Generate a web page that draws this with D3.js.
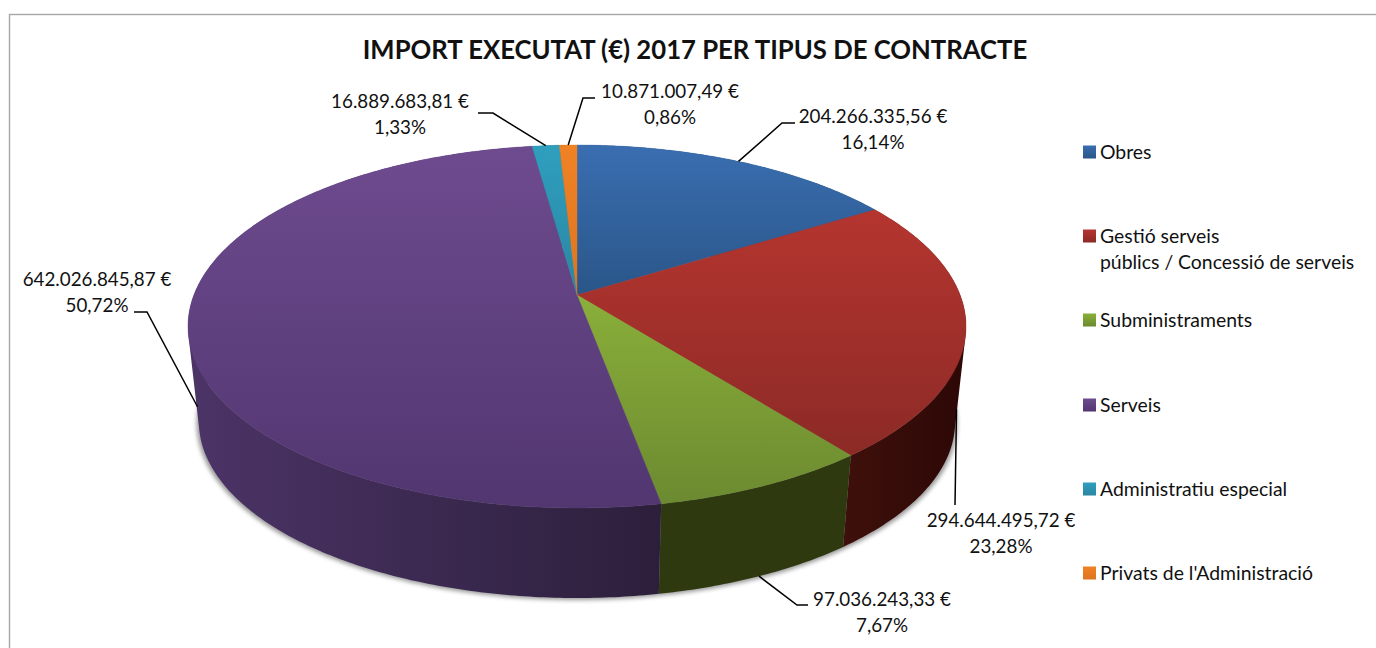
<!DOCTYPE html>
<html><head><meta charset="utf-8">
<script src="https://cdn.jsdelivr.net/npm/d3@7/dist/d3.min.js"></script>
<style>html,body{margin:0;padding:0;background:#fff;overflow:hidden}svg{display:block}text{font-family:Lato,"Open Sans",sans-serif;fill:#111}</style>
</head><body><svg id="c" width="1376" height="648"></svg>
<script>
const titleText = "IMPORT EXECUTAT (€) 2017 PER TIPUS DE CONTRACTE";
const categories = ["Obres","Gestió serveis|públics / Concessió de serveis","Subministraments","Serveis","Administratiu especial","Privats de l'Administració"];
const values = [204266335.56,294644495.72,97036243.33,642026845.87,16889683.81,10871007.49];
const valueLabels = ["204.266.335,56 €","294.644.495,72 €","97.036.243,33 €","642.026.845,87 €","16.889.683,81 €","10.871.007,49 €"];
const percentLabels = ["16,14%","23,28%","7,67%","50,72%","1,33%","0,86%"];
const topColours = [["#3a6eb1","#2a5688"],["#b5352f","#8c2a26"],["#8aaf3a","#6c8a30"],["#6e4b8f","#513670"],["#2f9fbe","#2a86a3"],["#f08225","#dd7420"]];
const wallColours = [["#1c3555","#1c3555"],["#3f100b","#2c0806"],["#2f3910","#2f3910"],["#4c3467","#2c1f3b"],["#15505f","#15505f"],["#7a4010","#7a4010"]];
const labelX = [873,1001,882,97,400,670];
const labelY = [116,520,599,279,101,91];
const elbows = [[[782,123],[795,123]],[[955,505]],[[797,605],[808,605]],[[147,312],[134,312]],[[493,113],[478,113]],[[583,98],[595,98]]];
const leaderDepth = [0,0.87,1,0.87,0,0];
const legendY = [152,236,320,405,489,573];

const svg = d3.select("#c");
const defs = svg.append("defs");
const cx=577, cy=295, R=383.1, C=176, K=0.1736, wallS=0.972, wallD=96;
const proj = a => { const sx=Math.sin(a), sy=-Math.cos(a), d=1-K*sy; return [R*sx/d, C*sy/d]; };
const topPt = a => { const p=proj(a); return [cx+p[0], cy+p[1]]; };
const lowPt = a => { const p=proj(a); return [cx+wallS*p[0], cy+wallD+wallS*p[1]]; };
const arcs = d3.pie().sort(null).value(d=>d)(values);
const line = d3.line();
const samples = (a,b) => { const n=Math.max(2,Math.ceil((b-a)*90)); return d3.range(n+1).map(i=>a+(b-a)*i/n); };

// frame
svg.append("rect").attr("x",9.5).attr("y",14.5).attr("width",1500).attr("height",800).attr("fill","#fff").attr("stroke","#a6a6a6").attr("stroke-width",1.4);

// gradients
arcs.forEach((d,i)=>{
  const g=defs.append("linearGradient").attr("id","t"+i).attr("x1",0).attr("y1",0).attr("x2",0).attr("y2",1);
  g.append("stop").attr("offset",0).attr("stop-color",topColours[i][0]);
  g.append("stop").attr("offset",1).attr("stop-color",topColours[i][1]);
  const w=defs.append("linearGradient").attr("id","w"+i).attr("x1",0).attr("y1",0).attr("x2",1).attr("y2",0);
  w.append("stop").attr("offset",0).attr("stop-color",wallColours[i][0]);
  w.append("stop").attr("offset",1).attr("stop-color",wallColours[i][1]);
});
defs.append("filter").attr("id","blur").attr("x","-5%").attr("y","-5%").attr("width","110%").attr("height","110%")
  .append("feGaussianBlur").attr("stdDeviation",2);

// shadow
const full=samples(0,2*Math.PI);
svg.append("path").attr("d",line(full.map(a=>{const p=lowPt(a);return [p[0]+(p[0]-cx)*0.006, p[1]+2];}))+"Z")
  .attr("fill","#777").attr("opacity",0.75).attr("filter","url(#blur)");

// walls: swept quads, all wound the same way, so the silhouette stays straight at the sides
arcs.forEach((d,i)=>{
  const s=samples(d.startAngle,d.endAngle);
  const quads=d3.pairs(s).map(([a,b])=>{
    const q=[topPt(a),topPt(b),lowPt(b),lowPt(a)];
    return line(d3.polygonArea(q)<0 ? q.reverse() : q)+"Z";
  });
  svg.append("path").attr("d",quads.join("")).attr("fill",`url(#w${i})`);
});
// top faces
arcs.forEach((d,i)=>{
  const s=samples(d.startAngle,d.endAngle);
  svg.append("path").attr("d",line([[cx,cy]].concat(s.map(topPt)))+"Z").attr("fill",`url(#t${i})`)
    .attr("stroke",`url(#t${i})`).attr("stroke-width",0.4);
});
// leaders
arcs.forEach((d,i)=>{
  const m=(d.startAngle+d.endAngle)/2, t=topPt(m), l=lowPt(m), f=leaderDepth[i];
  const start=[t[0]+(l[0]-t[0])*f, t[1]+(l[1]-t[1])*f];
  svg.append("path").attr("d",line([start].concat(elbows[i]))).attr("fill","none").attr("stroke","#000").attr("stroke-width",1.5);
});
// labels
const labelSize=18.8, legendSize=19.4;
valueLabels.forEach((v,i)=>{
  [v,percentLabels[i]].forEach((t,j)=>{
    svg.append("text").attr("x",labelX[i]).attr("y",labelY[i]+j*26.5).attr("dy","0.35em")
      .attr("text-anchor","middle").attr("font-size",labelSize).text(t);
  });
});
// title
svg.append("text").attr("x",695).attr("y",50).attr("dy","0.35em").attr("text-anchor","middle")
  .attr("font-size",25.7).attr("font-weight",700).text(titleText);
// legend
categories.forEach((c,i)=>{
  svg.append("rect").attr("x",1083).attr("y",legendY[i]-6.5).attr("width",13).attr("height",13).attr("fill",`url(#t${i})`);
  c.split("|").forEach((t,j)=>{
    svg.append("text").attr("x",1100).attr("y",legendY[i]+j*26).attr("dy","0.35em").attr("font-size",legendSize).text(t);
  });
});
</script></body></html>
